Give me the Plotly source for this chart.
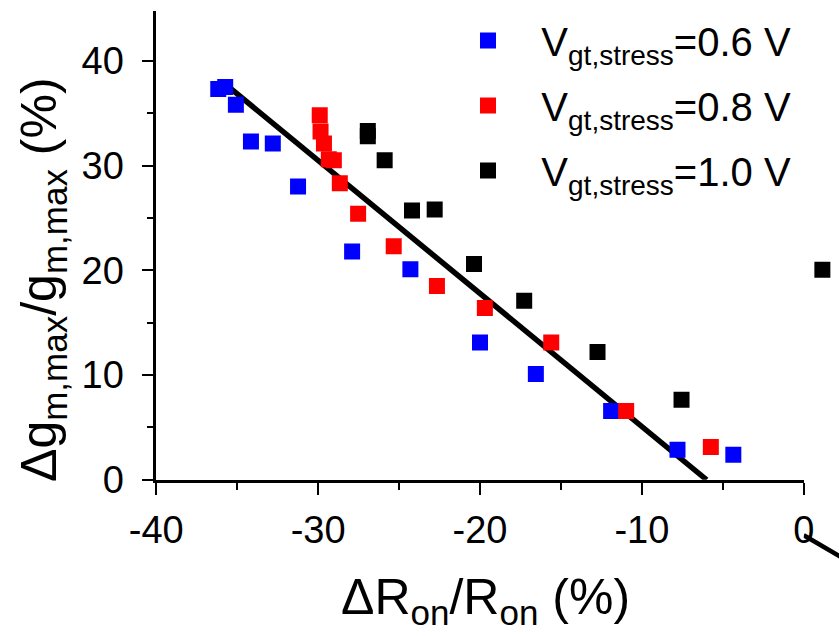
import plotly.graph_objects as go

# ---------------- data ----------------
blue_x = [-36.17, -35.74, -35.08, -34.15, -32.8, -31.24, -27.9, -24.3, -20.0, -16.55, -11.9, -7.8, -4.35]
blue_y = [37.3, 37.5, 35.8, 32.3, 32.1, 28.0, 21.8, 20.1, 13.1, 10.1, 6.56, 2.86, 2.39]

red_x = [-29.9, -29.85, -29.64, -29.34, -29.03, -28.66, -27.53, -25.33, -22.66, -19.7, -15.6, -10.97, -5.74]
red_y = [34.8, 33.25, 32.1, 30.6, 30.5, 28.3, 25.4, 22.3, 18.5, 16.4, 13.1, 6.56, 3.12]

black_x = [-26.93, -26.93, -25.89, -24.2, -22.8, -20.37, -17.27, -12.74, -7.55]
black_y = [33.3, 32.8, 30.5, 25.7, 25.8, 20.6, 17.1, 12.2, 7.64]

series_names = ["V<sub>gt,stress</sub>=0.6 V", "V<sub>gt,stress</sub>=0.8 V", "V<sub>gt,stress</sub>=1.0 V"]
series_colors = ["#0000FF", "#FF0000", "#000000"]

# linear fit of the main panel
fit_slope = -1.27
fit_intercept = -7.62
fit_x_start = -35.6

# neighbouring panel (partially visible on the right)
side_point_x = [1.15]
side_point_y = [17.9]
side_fit_slope = -0.8
side_fit_intercept = -4.6
side_fit_x = [0.0, 2.5]

x_ticks = [-40, -30, -20, -10, 0]
x_tick_labels = ["-40", "-30", "-20", "-10", "0"]
y_ticks = [0, 10, 20, 30, 40]
y_tick_labels = ["0", "10", "20", "30", "40"]

# ---------------- layout geometry (pixels) ----------------
W, H = 839, 636
L, R, T, B = 156.25, 803.75, 10.75, 479.75

def px(v):
    return v / W

def py(v):
    return 1 - v / H

fit_x_end = -fit_intercept / fit_slope
fit_x = [fit_x_start, fit_x_end]
fit_y = [fit_slope * v + fit_intercept for v in fit_x]
side_fit_y = [side_fit_slope * v + side_fit_intercept for v in side_fit_x]

FONT = "Liberation Sans, Arial, sans-serif"

fig = go.Figure()

fig.add_trace(go.Scatter(x=fit_x, y=fit_y, mode="lines",
                         line=dict(color="black", width=5.5), showlegend=False,
                         xaxis="x", yaxis="y"))

for i, (xs, ys, name, col) in enumerate(zip([blue_x, red_x, black_x], [blue_y, red_y, black_y],
                                            series_names, series_colors)):
    fig.add_trace(go.Scatter(x=xs, y=ys, mode="markers", name="   " + name,
                             legendgroup=f"g{i}",
                             marker=dict(symbol="square", size=16, color=col,
                                         line=dict(width=0)),
                             xaxis="x", yaxis="y"))

# right neighbouring panel pieces
fig.add_trace(go.Scatter(x=side_fit_x, y=side_fit_y, mode="lines",
                         line=dict(color="black", width=4.5), showlegend=False,
                         xaxis="x4", yaxis="y4"))
fig.add_trace(go.Scatter(x=side_point_x, y=side_point_y, mode="markers",
                         marker=dict(symbol="square", size=16, color="black"),
                         showlegend=False, xaxis="x4", yaxis="y4"))

xscale = (R - L) / 40.0
yscale_right = 11.8

tickfont = dict(family=FONT, size=38, color="black")

fig.update_layout(
    width=W, height=H,
    margin=dict(l=0, r=0, t=0, b=0, autoexpand=False),
    paper_bgcolor="white", plot_bgcolor="white",
    showlegend=True,
    legend=dict(x=px(468), y=py(8), xanchor="left", yanchor="top",
                font=dict(family=FONT, size=40, color="black"),
                bgcolor="rgba(0,0,0,0)", borderwidth=0,
                itemsizing="trace", tracegroupgap=10),
    xaxis=dict(domain=[px(L), px(R)], range=[-40, 0], anchor="y", automargin=False,
               tickvals=x_ticks, ticktext=x_tick_labels, ticks="outside", ticklen=12, tickwidth=2,
               tickcolor="black", showline=True, linewidth=2.5, linecolor="black",
               showgrid=False, zeroline=False, tickfont=tickfont,
               minor=dict(dtick=5, ticks="outside", ticklen=7, tickwidth=2,
                          tickcolor="black", showgrid=False),
               ticklabelstandoff=3),
    xaxis2=dict(overlaying="x", side="top", anchor="y", range=[-40, 0], automargin=False,
                tickvals=x_ticks, ticks="inside", ticklen=12, tickwidth=2,
                tickcolor="black", showline=True, linewidth=2.5, linecolor="black",
                showgrid=False, zeroline=False, showticklabels=False,
                minor=dict(dtick=5, ticks="inside", ticklen=7, tickwidth=2,
                           tickcolor="black", showgrid=False)),
    yaxis=dict(domain=[py(B), py(T)], range=[0, (B - T) / 10.475], anchor="x", automargin=False,
               tickvals=y_ticks, ticktext=y_tick_labels, ticks="outside", ticklen=12, tickwidth=2,
               tickcolor="black", showline=True, linewidth=2.5, linecolor="black",
               showgrid=False, zeroline=False, tickfont=tickfont,
               minor=dict(dtick=5, ticks="outside", ticklen=7, tickwidth=2,
                          tickcolor="black", showgrid=False),
               ticklabelstandoff=10),
    yaxis3=dict(overlaying="y", side="right", anchor="x", automargin=False,
                range=[0, (B - T) / yscale_right], dtick=10, ticks="inside",
                ticklen=12, tickwidth=2, tickcolor="black", showline=True,
                linewidth=2.5, linecolor="black", showgrid=False, zeroline=False,
                showticklabels=False,
                minor=dict(dtick=5, ticks="inside", ticklen=7, tickwidth=2,
                           tickcolor="black", showgrid=False)),
    xaxis4=dict(domain=[px(R), 1], range=[0, (W - R) / xscale], anchor="y4",
                visible=False, showgrid=False, zeroline=False, automargin=False),
    yaxis4=dict(domain=[0, 1], range=[-(H - 481) / yscale_right, 481 / yscale_right],
                anchor="x4", visible=False, showgrid=False, zeroline=False, automargin=False),
    annotations=[
        dict(text="ΔR<sub>on</sub>/R<sub>on</sub> (%)", x=px(485), y=py(600),
             xref="paper", yref="paper", showarrow=False,
             font=dict(family=FONT, size=50, color="black"),
             xanchor="center", yanchor="middle"),
        dict(text="Δg<sub>m,max</sub>/g<sub>m,max</sub> (%)", x=px(42), y=py(280),
             xref="paper", yref="paper", showarrow=False, textangle=-90,
             font=dict(family=FONT, size=50, color="black"),
             xanchor="center", yanchor="middle"),
    ],
)

fig.write_html("out.html")
